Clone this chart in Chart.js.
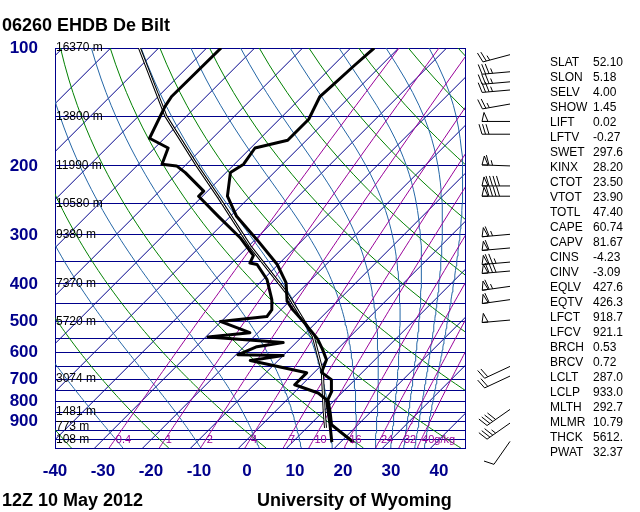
<!DOCTYPE html>
<html>
<head>
<meta charset="utf-8">
<script src="https://cdn.jsdelivr.net/npm/chart.js@4.4.1/dist/chart.umd.min.js"></script>
<style>
  html, body { margin: 0; padding: 0; background: #fff; }
  #wrap { width: 640px; height: 512px; }
</style>
</head>
<body>
<div id="wrap"><canvas id="skewt" width="640" height="512"></canvas></div>
<script>
const TITLE = '06260 EHDB De Bilt';
const DATE_TEXT = '12Z 10 May 2012';
const CREDIT = 'University of Wyoming';

// sounding (hPa, degC)
const TEMP_P = [1015, 916, 853, 790, 753, 703, 673, 625, 589, 553, 499, 466, 443, 398, 357, 309, 269, 239, 208, 198, 180, 172, 152, 133, 124, 111, 100];
const TEMP_C = [22.7, 14.5, 11.7, 8.5, 7.6, 5.1, 1.5, -0.1, -3.0, -6.3, -12.9, -17.5, -20.5, -24.5, -30.2, -39.5, -48.7, -54.8, -59.1, -58.1, -59.1, -53.9, -53.9, -56.3, -56.0, -55.6, -55.1];
const DEWP_P = [1015, 907, 855, 791, 760, 724, 675, 628, 610, 607, 579, 565, 547, 533, 499, 485, 466, 439, 390, 357, 354, 339, 305, 269, 239, 232, 208, 200, 198, 180, 170, 141, 133, 100];
const DEWP_C = [18.2, 13.8, 11.4, 8.3, 5.1, -1.5, -1.5, -15.8, -10.0, -19.6, -17.3, -12.7, -29.5, -21.7, -30.2, -21.5, -21.9, -24.0, -29.2, -34.4, -36.2, -37.0, -43.5, -52.5, -60.8, -60.8, -68.5, -71.7, -75.1, -77.2, -83.1, -86.5, -87.2, -87.0];
const PARCEL_P = [933, 838, 670, 545, 422, 321, 241, 200, 149, 100];
const PARCEL_C = [13.9, 9.8, 1.5, -7.7, -22.3, -39.6, -56.3, -67.4, -84.4, -104.0];

// axes
const X_TICKS = [-40, -30, -20, -10, 0, 10, 20, 30, 40];
const ISOBARS = [100, 150, 200, 250, 300, 350, 400, 450, 500, 550, 600, 650, 700, 750, 800, 850, 900, 950, 1000];
const P_LABELS = [100, 200, 300, 400, 500, 600, 700, 800, 900];
const HEIGHT_P = [100, 150, 200, 250, 300, 400, 500, 700, 850, 925, 1000];
const HEIGHT_M = ['16370', '13800', '11990', '10580', '9380', '7370', '5720', '3074', '1481', '773', '108'];

// background lines
const ISOTHERMS = [-120, -110, -100, -90, -80, -70, -60, -50, -40, -30, -20, -10, 0, 10, 20, 30, 40];
const DRY_THETA = [235, 255, 275, 295, 315, 335, 355, 375, 395, 415, 435, 455];
const MOIST_THETAE = [247, 267, 287, 307, 327, 347, 367, 387, 407, 427, 447];
const MIXING_G = [0.4, 1, 2, 4, 7, 10, 16, 24, 32, 40];
const MIXING_LABEL = ['0.4', '1', '2', '4', '7', '10', '16', '24', '32', '40g/kg'];

// winds (hPa, deg, kt)
const WIND_P = [104, 115, 122, 128, 139, 154, 166, 200, 225, 239, 299, 324, 352, 371, 406, 439, 495, 650, 688, 837, 907, 1010];
const WIND_DIR = [255, 265, 265, 265, 260, 270, 270, 272, 270, 270, 265, 265, 265, 265, 262, 262, 265, 245, 245, 235, 235, 215];
const WIND_KT = [25, 35, 35, 35, 25, 50, 30, 65, 90, 90, 65, 60, 75, 80, 65, 60, 50, 20, 20, 40, 35, 10];

const INDEX_NAMES = ['SLAT', 'SLON', 'SELV', 'SHOW', 'LIFT', 'LFTV', 'SWET', 'KINX', 'CTOT', 'VTOT', 'TOTL', 'CAPE', 'CAPV', 'CINS', 'CINV', 'EQLV', 'EQTV', 'LFCT', 'LFCV', 'BRCH', 'BRCV', 'LCLT', 'LCLP', 'MLTH', 'MLMR', 'THCK', 'PWAT'];
const INDEX_VALUES = ['52.10', '5.18', '4.00', '1.45', '0.02', '-0.27', '297.6', '28.20', '23.50', '23.90', '47.40', '60.74', '81.67', '-4.23', '-3.09', '427.6', '426.3', '918.7', '921.1', '0.53', '0.72', '287.0', '933.0', '292.7', '10.79', '5612.', '32.37'];

const SKEW = 81.6;
const NAVY = '#00008b';
const GREEN = '#008000';
const STEEL = '#2466a6';
const PURPLE = '#990099';
const FONT = '"Liberation Sans", Arial, sans-serif';

const LEVELS = [];
for (let p = 1050; p >= 100; p -= 10) LEVELS.push(p);

function skewX(t, p) {
  return t + SKEW * Math.log10(1000 / p);
}

function thetaE(tC, p) {
  const tk = tC + 273.15;
  const es = 6.112 * Math.exp(17.67 * tC / (tC + 243.5));
  const r = 622 * es / (p - es);
  return tk * Math.pow(1000 / p, 0.2854 * (1 - 0.00028 * r)) * Math.exp((3.376 / tk - 0.00254) * r * (1 + 0.00081 * r));
}

function moistT(te, p) {
  let lo = -130, hi = 40;
  for (let i = 0; i < 50; i++) {
    const mid = (lo + hi) / 2;
    if (thetaE(mid, p) > te) hi = mid; else lo = mid;
  }
  return (lo + hi) / 2;
}

function mixingT(w, p) {
  const e = w * p / (622 + w);
  const l = Math.log(e / 6.112);
  return 243.5 * l / (17.67 - l);
}

function profile(ps, ts) {
  return ps.map((p, i) => ({ x: skewX(ts[i], p), y: p }));
}

function line(points, color, width, order) {
  return {
    data: points,
    borderColor: color,
    borderWidth: width,
    pointRadius: 0,
    showLine: true,
    fill: false,
    tension: 0,
    borderJoinStyle: 'round',
    order,
  };
}

const datasets = [
  line(profile(TEMP_P, TEMP_C), '#000', 3, 0),
  line(profile(DEWP_P, DEWP_C), '#000', 3, 0),
  line(profile(PARCEL_P, PARCEL_C), '#fff', 1, 1),
  line(profile(PARCEL_P, PARCEL_C), '#000', 3, 2),
  ...MIXING_G.map(w => line(LEVELS.map(p => ({ x: skewX(mixingT(w, p), p), y: p })), PURPLE, 1, 3)),
  ...MOIST_THETAE.map(te => line(LEVELS.map(p => ({ x: skewX(moistT(te, p), p), y: p })), STEEL, 1, 4)),
  ...DRY_THETA.map(th => line(LEVELS.map(p => ({ x: skewX(th * Math.pow(p / 1000, 0.286) - 273.15, p), y: p })), GREEN, 1, 5)),
  ...ISOTHERMS.map(t => line([{ x: skewX(t, 1050), y: 1050 }, { x: skewX(t, 100), y: 100 }], NAVY, 1, 6)),
];

function drawBarb(ctx, sx, sy, dir, kt) {
  const len = 28;
  const r = dir * Math.PI / 180;
  const ux = Math.sin(r), uy = -Math.cos(r);
  const nx = -uy, ny = ux;
  const tx = sx + ux * len, ty = sy + uy * len;
  ctx.beginPath();
  ctx.moveTo(sx, sy);
  ctx.lineTo(tx, ty);
  ctx.stroke();
  let rest = Math.round(kt / 5) * 5;
  let d = 0;
  while (rest >= 50) {
    const px = tx - ux * d, py = ty - uy * d;
    ctx.beginPath();
    ctx.moveTo(px, py);
    ctx.lineTo(px - ux * 2 + nx * 9, py - uy * 2 + ny * 9);
    ctx.lineTo(px - ux * 6, py - uy * 6);
    ctx.closePath();
    ctx.stroke();
    d += 7;
    rest -= 50;
  }
  ctx.beginPath();
  while (rest >= 10) {
    const px = tx - ux * d, py = ty - uy * d;
    ctx.moveTo(px, py);
    ctx.lineTo(px + nx * 10 + ux * 3, py + ny * 10 + uy * 3);
    d += 3.5;
    rest -= 10;
  }
  if (rest >= 5) {
    if (d === 0) d = 3.5;
    const px = tx - ux * d, py = ty - uy * d;
    ctx.moveTo(px, py);
    ctx.lineTo(px + nx * 5 + ux * 1.5, py + ny * 5 + uy * 1.5);
  }
  ctx.stroke();
}

const decor = {
  id: 'decor',
  afterDatasetsDraw(chart) {
    const { ctx, chartArea: a, scales: { x, y } } = chart;
    ctx.save();
    ctx.strokeStyle = NAVY;
    ctx.lineWidth = 1;
    ctx.beginPath();
    ctx.moveTo(Math.round(a.right) + 0.5, a.top);
    ctx.lineTo(Math.round(a.right) + 0.5, a.bottom);
    ctx.stroke();

    ctx.font = '12px ' + FONT;
    ctx.fillStyle = '#000';
    ctx.textAlign = 'left';
    ctx.textBaseline = 'middle';
    HEIGHT_P.forEach((p, i) => ctx.fillText(HEIGHT_M[i] + ' m', a.left + 1, y.getPixelForValue(p)));

    ctx.font = '11px ' + FONT;
    ctx.fillStyle = PURPLE;
    MIXING_G.forEach((w, i) => {
      const px = x.getPixelForValue(skewX(mixingT(w, 1000), 1000));
      ctx.fillText(MIXING_LABEL[i], px + 1, y.getPixelForValue(1000));
    });
    ctx.restore();
  },
  afterDraw(chart) {
    const { ctx, chartArea: a, scales: { y } } = chart;
    ctx.save();
    ctx.fillStyle = '#000';
    ctx.textAlign = 'left';
    ctx.textBaseline = 'alphabetic';
    ctx.font = 'bold 18px ' + FONT;
    ctx.fillText(TITLE, 2, 31);
    ctx.fillText(DATE_TEXT, 2, 506);
    ctx.fillText(CREDIT, 257, 506);

    ctx.font = '12px ' + FONT;
    ctx.textBaseline = 'middle';
    INDEX_NAMES.forEach((name, i) => {
      const ty = a.top + 14.7 + 15 * i;
      ctx.fillText(name, a.right + 85, ty);
      ctx.fillText(INDEX_VALUES[i], a.right + 128, ty);
    });

    ctx.strokeStyle = '#000';
    ctx.lineWidth = 1;
    WIND_P.forEach((p, i) => drawBarb(ctx, a.right + 45, y.getPixelForValue(p), WIND_DIR[i], WIND_KT[i]));
    ctx.restore();
  },
};

new Chart(document.getElementById('skewt'), {
  type: 'scatter',
  data: { datasets },
  options: {
    responsive: false,
    animation: false,
    events: [],
    layout: { padding: { top: 48, right: 175, left: 0, bottom: 0 } },
    plugins: { legend: { display: false }, tooltip: { enabled: false } },
    scales: {
      x: {
        type: 'linear',
        min: -40,
        max: 45.42,
        afterBuildTicks: scale => { scale.ticks = X_TICKS.map(v => ({ value: v })); },
        afterFit: scale => { scale.height = 64; },
        grid: { display: false, drawTicks: false },
        border: { display: true, color: NAVY, width: 1 },
        ticks: { color: NAVY, padding: 13, autoSkip: false, maxRotation: 0, font: { family: FONT, size: 17, weight: 'bold' } },
      },
      y: {
        type: 'logarithmic',
        reverse: true,
        min: 100,
        max: 1050,
        afterBuildTicks: scale => { scale.ticks = ISOBARS.map(v => ({ value: v })); },
        afterFit: scale => { scale.width = 55; },
        grid: { color: NAVY, lineWidth: 1, drawTicks: false },
        border: { display: true, color: NAVY, width: 1 },
        ticks: {
          color: NAVY,
          padding: 17,
          autoSkip: false,
          font: { family: FONT, size: 17, weight: 'bold' },
          callback: value => (P_LABELS.includes(value) ? String(value) : ''),
        },
      },
    },
  },
  plugins: [decor],
});
</script>
</body>
</html>
